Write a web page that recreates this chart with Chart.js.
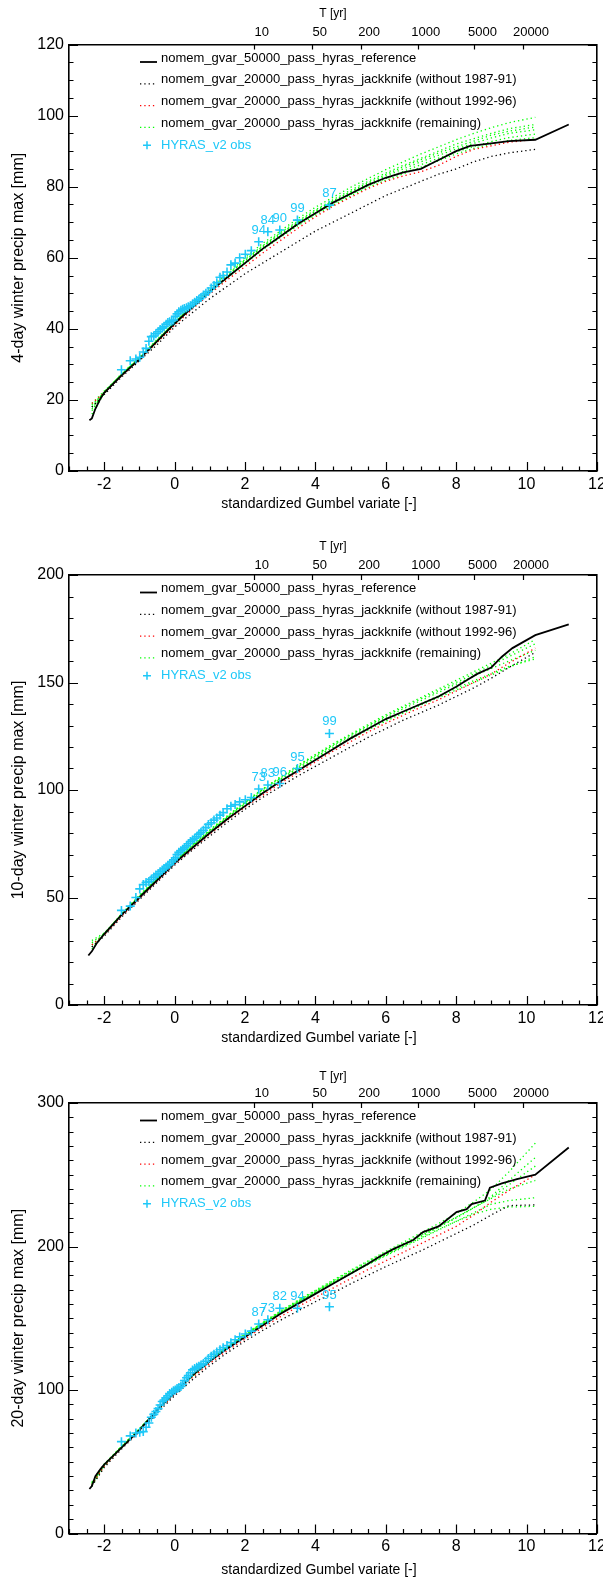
<!DOCTYPE html>
<html>
<head>
<meta charset="utf-8">
<script src="https://cdn.jsdelivr.net/npm/chart.js@4.4.0/dist/chart.umd.min.js"></script>
<style>
  html, body { margin: 0; padding: 0; background: #fff; }
  body { width: 603px; height: 1584px; position: relative; overflow: hidden; }
  canvas { position: absolute; left: 0; }
</style>
</head>
<body>
<canvas id="c1" width="603" height="528" style="top:0px"></canvas>
<canvas id="c2" width="603" height="528" style="top:530px"></canvas>
<canvas id="c3" width="603" height="528" style="top:1056px"></canvas>
<script>
// axis labels
const gumbelMajor = [-2, 0, 2, 4, 6, 8, 10, 12];
const returnPeriods = ['10', '50', '200', '1000', '5000', '20000'];
const returnPeriodX = [2.25, 3.90, 5.30, 6.91, 8.52, 9.90];
const legendLabels = [
    'nomem_gvar_50000_pass_hyras_reference',
    'nomem_gvar_20000_pass_hyras_jackknife (without 1987-91)',
    'nomem_gvar_20000_pass_hyras_jackknife (without 1992-96)',
    'nomem_gvar_20000_pass_hyras_jackknife (remaining)',
    'HYRAS_v2 obs'
];

// plotting positions of the observed annual maxima
const obsX = [-1.51, -1.26, -1.10, -0.99, -0.89, -0.81, -0.73, -0.66, -0.59, -0.53, -0.47, -0.41, -0.35,
    -0.30, -0.24, -0.19, -0.14, -0.08, -0.03, 0.02, 0.07, 0.12, 0.18, 0.23, 0.28, 0.34, 0.39, 0.45, 0.51,
    0.57, 0.63, 0.69, 0.75, 0.82, 0.89, 0.96, 1.04, 1.12, 1.20, 1.29, 1.38, 1.49, 1.60, 1.72, 1.85, 2.01,
    2.18, 2.39, 2.65, 2.99, 3.49, 4.40];

// x positions of the jackknife curves
const jkX = [-2.35, -2, -1.5, -1, -0.5, 0, 0.5, 1, 1.5, 2, 2.5, 3, 3.5, 4, 4.5, 5, 5.5, 6, 6.5, 7, 7.5, 8, 8.5, 9, 9.5, 10.25];

// ---- 4-day
const ref4X = [-2.42, -2.35, -2.25, -2.1, -2.0, -1.5, -1.0, -0.5, 0, 0.5, 1.0, 1.5, 2.0, 2.5, 3.0, 3.5, 4.0,
    4.5, 5.0, 5.5, 6.0, 6.5, 7.0, 7.3, 7.6, 8.0, 8.4, 9.0, 9.5, 10.25, 11.2];
const ref4Y = [14.3, 14.8, 17.5, 20.5, 22, 27, 31.5, 36.5, 41.5, 46, 50.5, 54.5, 58.5, 62.5, 66, 69.5, 72.5,
    75.5, 78, 80.5, 82.5, 84, 85, 86.5, 88, 90, 91.5, 92.2, 92.8, 93.2, 97.5];
const jk8791_4 = [18, 21.5, 26.5, 31, 35.5, 40.5, 44.5, 48.5, 52, 55.5, 58.5, 61.5, 64.5, 67.5, 70, 72.5, 75,
    77.5, 79.5, 81.5, 83.5, 85, 87, 88.5, 89.5, 90.5];
const jk9296_4 = [19, 22, 26.8, 31.3, 36.2, 41, 45.5, 49.8, 53.8, 57.5, 61.3, 64.8, 68.3, 71.5, 74.5, 77, 79.5,
    81.5, 83, 84.2, 86, 88.5, 90.5, 91.5, 92.5, 93.3];
const jkRest4 = [
    [17, 22, 27.5, 32, 37, 42, 46.8, 51.3, 55.8, 60, 64, 67.5, 71, 74.2, 77, 79.8, 82.3, 84.8, 87, 89.2, 91.2, 93.2, 95, 96.6, 98, 99.5],
    [18, 22.3, 27.3, 31.8, 36.8, 41.8, 46.5, 51, 55.3, 59.5, 63.4, 67, 70.3, 73.5, 76.3, 79, 81.5, 83.8, 86, 88, 90, 92, 93.5, 95, 96.3, 97.5],
    [19, 22.5, 27.2, 31.7, 36.6, 41.6, 46.2, 50.7, 55, 59, 63, 66.5, 69.8, 73, 75.8, 78.4, 80.8, 83, 85, 87, 88.8, 90.6, 92.2, 93.7, 95, 96],
    [18.5, 22.2, 27, 31.5, 36.4, 41.4, 46, 50.4, 54.6, 58.6, 62.5, 66, 69.3, 72.4, 75.2, 77.8, 80.2, 82.3, 84.3, 86.2, 88, 89.8, 91.3, 92.7, 93.8, 94.8],
    [17.5, 22, 27, 31.5, 36.3, 41.2, 45.8, 50.2, 54.3, 58.3, 62.2, 65.7, 69, 72, 74.8, 77.4, 79.8, 81.8, 83.6, 85.5, 87.3, 89.2, 90.8, 92, 93, 93.8],
    [16, 21.8, 27.2, 31.8, 36.7, 41.7, 46.3, 50.8, 55.2, 59.3, 63.2, 66.8, 70, 73.2, 76, 78.6, 81.1, 83.4, 85.6, 87.6, 89.5, 91.2, 92.8, 94.5, 95.6, 96.8]
];
const obs4 = [28.5, 31, 31.5, 32, 33.5, 34.5, 36.5, 37.8, 38, 38.6, 39.2, 39.8, 40.2, 40.6, 41.3, 41.8, 42, 42.2,
    42.5, 43.5, 44.2, 44.8, 45.2, 45.5, 45.7, 45.9, 46.2, 46.5, 47, 47.5, 48, 48.3, 48.8, 49.5, 50, 50.5, 51.5,
    52.2, 53, 54.5, 55, 56, 58, 58.5, 60, 61, 62, 64.5, 67.3, 67.8, 70.6, 74.8];
const obsYears4 = ['94', '84', '90', '99', '87'];

// ---- 10-day
const ref10X = [-2.45, -2.35, -2.2, -2, -1.5, -1, -0.5, 0, 0.5, 1, 1.5, 2, 2.5, 3, 3.5, 4, 4.5, 5, 5.5, 6, 6.5,
    7, 7.5, 8, 8.3, 8.6, 9, 9.3, 9.6, 10.25, 11.2];
const ref10Y = [23, 25, 29, 33, 42, 50, 58, 66, 73, 80, 86.5, 92.5, 98.5, 104, 109, 114, 119, 124, 128.5, 133,
    136.5, 140, 143.5, 148, 151, 154, 157, 162, 166, 172, 177];
const jk8791_10 = [27, 32, 41, 49, 57, 65, 72, 78.5, 85, 91, 96.5, 101.5, 106.5, 111, 115.5, 120, 124.5, 128.5,
    132.5, 136, 139.5, 143.5, 147.5, 152, 157, 164];
const jk9296_10 = [28, 32.5, 41.5, 49.5, 57.5, 65.5, 72.5, 79.5, 86, 92, 97.5, 103, 108, 113, 118, 122.5, 127,
    131, 134.8, 138.5, 142, 146, 150, 154, 159, 166];
const jkRest10 = [
    [26, 33, 42.5, 51, 59, 67, 74.5, 81.5, 88, 94.5, 100.5, 106, 111.5, 116.5, 121.5, 126, 130.5, 135, 139, 143, 147, 151, 155, 159, 163, 170],
    [28, 33, 42.3, 50.7, 58.7, 66.7, 74, 81, 87.5, 94, 100, 105.5, 110.8, 115.8, 120.7, 125.2, 129.5, 133.8, 137.8, 141.6, 145.4, 149.2, 153, 156.5, 160, 165],
    [30, 33.5, 42.2, 50.5, 58.5, 66.5, 73.8, 80.7, 87.2, 93.5, 99.4, 105, 110.2, 115.2, 120, 124.4, 128.6, 132.6, 136.5, 140.2, 143.8, 147.4, 150.8, 154.2, 157.5, 161],
    [29, 33.2, 42.4, 50.8, 58.8, 66.8, 74.2, 81.2, 87.8, 94.2, 100.2, 105.8, 111.2, 116.2, 121, 125.6, 130, 134.4, 138.5, 142.4, 146.2, 150, 154, 158, 162, 168],
    [27, 32.8, 42, 50.3, 58.3, 66.3, 73.6, 80.5, 87, 93.2, 99, 104.5, 109.7, 114.6, 119.4, 123.8, 128, 132, 135.8, 139.5, 143, 146.5, 150, 153.5, 157, 162]
];
const obs10 = [44, 46, 50, 54, 56, 57, 57.5, 58.5, 59.5, 60.5, 61, 62, 62.8, 63.5, 64.2, 65, 65.5, 66.5, 67.5,
    68.5, 70, 71, 71.8, 72.5, 73.2, 74, 75, 76, 76.8, 77.5, 78.3, 79.5, 80.3, 81.3, 82.5, 84, 84.8, 86, 87,
    88.3, 89.5, 91.3, 92.5, 93.2, 94.5, 95.5, 96.5, 100.5, 102.3, 103, 110, 126.3];
const obsYears10 = ['73', '83', '96', '95', '99'];

// ---- 20-day
const ref20X = [-2.42, -2.35, -2.25, -2.1, -2, -1.5, -1, -0.5, 0, 0.5, 1, 1.5, 2, 2.5, 3, 3.5, 4, 4.5, 5, 5.5,
    5.83, 6.2, 6.78, 7.06, 7.5, 7.73, 8.01, 8.3, 8.44, 8.82, 8.96, 9.3, 9.73, 10.25, 11.2];
const ref20Y = [31, 33, 40, 45, 48, 60, 72, 86, 98, 110, 120, 129, 137, 145, 153, 160, 167, 174, 181, 188, 193,
    198, 204.5, 210, 214, 218.5, 224, 226, 229.6, 232, 241, 244, 247, 250, 269];
const jk8791_20 = [33, 46, 59, 71, 84, 96, 107, 117, 126, 134, 141.5, 148.5, 155, 161.5, 167.5, 174, 180, 186,
    191.5, 197, 203, 209, 215, 222, 228.5, 229];
const jk9296_20 = [34, 47, 60, 71.5, 85, 97, 108.5, 118.5, 127.5, 135.5, 143.5, 151, 158, 164.5, 171, 177.5, 184,
    190, 196, 202, 208, 214, 222, 231, 239, 250];
const jkRest20 = [
    [35, 48, 61, 73, 86, 98.5, 110.5, 121, 130.5, 139, 147, 155, 162.5, 169.5, 176.5, 183.5, 190, 196.5, 203, 209.5, 216, 223, 231, 240, 252, 272],
    [34, 47.5, 60.5, 72.5, 85.5, 98, 110, 120.5, 130, 138.5, 146.5, 154, 161.5, 168.5, 175.5, 182, 188.5, 195, 201, 207.5, 213.5, 220, 227, 234, 243, 256],
    [36, 48.5, 61, 73, 86, 98.5, 110.3, 120.8, 130.2, 138.8, 146.8, 154.5, 162, 169, 176, 182.8, 189.5, 196, 202, 208, 214, 220.5, 227, 233.5, 240, 246],
    [33, 47, 60.5, 72.5, 85.5, 97.8, 109.5, 120, 129.5, 138, 146, 153.5, 160.8, 167.8, 174.5, 181, 187.5, 193.5, 199.5, 205.5, 211.5, 217.5, 223.5, 229.5, 232, 234],
    [35, 47.8, 60.8, 72.8, 85.8, 98.2, 109.8, 120.3, 129.8, 138.3, 146.3, 154, 161.3, 168.3, 175.2, 181.8, 188.2, 194.2, 200.2, 206, 212, 217.5, 222.5, 226, 227.5, 228],
    [34, 47.2, 60.2, 72.2, 85.2, 97.5, 109.3, 119.8, 129.3, 137.8, 145.8, 153.2, 160.5, 167.5, 174.3, 181, 187.6, 194, 200.5, 207, 213.5, 220, 227, 235, 246, 262]
];
const obs20 = [64, 68, 70, 70.5, 71, 74, 77, 81, 83, 85, 87, 89.5, 92, 93, 94.5, 96, 97.5, 98.5, 99.5, 100, 101,
    101.5, 102.5, 104, 106.5, 108.5, 110, 112, 114, 115, 115.8, 116.5, 117.5, 118.5, 120, 122, 123.5, 125,
    126.5, 128, 129.5, 131, 133, 135, 137, 139, 141, 146, 149, 157, 157, 158];
const obsYears20 = ['87', '73', '82', '94', '95'];

// ---------------------------------------------------------
const CYAN = '#1ec8f8';
const GREEN = '#00ff00';
const FONT = 'Liberation Sans, Arial, sans-serif';

function xy(xs, ys) {
    return ys.map((y, i) => ({ x: xs[i], y: y }));
}

function dotted(color, data) {
    return {
        data: data, showLine: true, borderColor: color, borderWidth: 1.3,
        borderDash: [1.3, 3], pointRadius: 0, fill: false, tension: 0
    };
}

// IDL style ticks pointing into the plot, plus the x title
const inwardTicks = {
    id: 'inwardTicks',
    afterDraw(chart, args, opts) {
        const { ctx, chartArea: a, scales } = chart;
        ctx.save();
        ctx.strokeStyle = '#000';
        ctx.lineWidth = 1.2;
        ctx.beginPath();
        for (let v = -3; v <= 12; v += 0.5) {
            const px = Math.round(scales.x.getPixelForValue(v)) + 0.5;
            const len = (v % 2 === 0) ? 9 : 4.5;
            ctx.moveTo(px, a.bottom); ctx.lineTo(px, a.bottom - len);
        }
        returnPeriodX.forEach(v => {
            const px = Math.round(scales.x.getPixelForValue(v)) + 0.5;
            ctx.moveTo(px, a.top); ctx.lineTo(px, a.top + 5);
        });
        for (let v = 0; v <= opts.yMax; v += opts.yMinor) {
            const py = Math.round(scales.y.getPixelForValue(v)) + 0.5;
            const len = (v % opts.yStep === 0) ? 9 : 4.5;
            ctx.moveTo(a.left, py); ctx.lineTo(a.left + len, py);
            ctx.moveTo(a.right, py); ctx.lineTo(a.right - len, py);
        }
        ctx.stroke();

        ctx.font = '14px ' + FONT;
        ctx.fillStyle = '#000';
        ctx.textAlign = 'center';
        ctx.textBaseline = 'middle';
        ctx.fillText('standardized Gumbel variate [-]', 319, a.bottom + opts.titleGap);
        ctx.restore();
    }
};

// legend drawn inside the plot box, top left
const boxLegend = {
    id: 'boxLegend',
    afterDraw(chart) {
        const { ctx, chartArea: a } = chart;
        const colors = ['#000', '#000', '#ff0000', GREEN, CYAN];
        ctx.save();
        ctx.font = '13px ' + FONT;
        ctx.textBaseline = 'middle';
        legendLabels.forEach((txt, i) => {
            const y = a.top + 13.5 + 21.8 * i;
            ctx.strokeStyle = colors[i];
            ctx.lineWidth = i === 0 ? 1.8 : 1.3;
            ctx.beginPath();
            if (i === 0) {
                ctx.setLineDash([]);
                ctx.moveTo(140, y + 4); ctx.lineTo(157, y + 4);
            } else if (i < 4) {
                ctx.setLineDash([1.3, 3]);
                ctx.moveTo(140, y + 4); ctx.lineTo(157, y + 4);
            } else {
                ctx.setLineDash([]);
                ctx.lineWidth = 1.5;
                ctx.moveTo(147, y - 4); ctx.lineTo(147, y + 4);
                ctx.moveTo(143, y); ctx.lineTo(151, y);
            }
            ctx.stroke();
            ctx.fillStyle = i === 4 ? CYAN : '#000';
            ctx.fillText(txt, 161, y);
        });
        ctx.restore();
    }
};

// year labels above the largest observed maxima
const yearLabels = {
    id: 'yearLabels',
    afterDatasetsDraw(chart, args, opts) {
        const { ctx, scales } = chart;
        const pts = chart.data.datasets[0].data;
        ctx.save();
        ctx.font = '13px ' + FONT;
        ctx.fillStyle = CYAN;
        ctx.textAlign = 'center';
        ctx.textBaseline = 'alphabetic';
        opts.years.forEach((yr, k) => {
            const p = pts[pts.length - opts.years.length + k];
            ctx.fillText(yr, scales.x.getPixelForValue(p.x), scales.y.getPixelForValue(p.y) - 8);
        });
        ctx.restore();
    }
};

function noPad(s) {
    s.paddingLeft = 0; s.paddingRight = 0; s.paddingTop = 0; s.paddingBottom = 0;
}

function makePanel(p) {
    const H = 528;
    const datasets = [{
        data: xy(obsX, p.obs), showLine: false, pointStyle: 'cross', pointRadius: 4.5,
        borderColor: CYAN, borderWidth: 1.6, backgroundColor: CYAN
    }, {
        data: xy(p.refX, p.refY), showLine: true, borderColor: '#000', borderWidth: 1.8,
        pointRadius: 0, fill: false, tension: 0
    }, dotted('#ff0000', xy(jkX, p.jk9296)), dotted('#000', xy(jkX, p.jk8791))];
    p.rest.forEach(r => datasets.push(dotted(GREEN, xy(jkX, r))));

    const tickFont = { family: FONT, size: 16 };
    const frame = { display: true, color: '#000', width: 1.6 };
    return new Chart(document.getElementById(p.id), {
        type: 'scatter',
        data: { datasets: datasets },
        options: {
            responsive: false,
            animation: false,
            events: [],
            layout: { padding: 0 },
            plugins: {
                legend: { display: false },
                tooltip: { enabled: false },
                inwardTicks: { yMax: p.yMax, yStep: p.yStep, yMinor: p.yMinor, titleGap: p.titleGap },
                yearLabels: { years: p.years }
            },
            scales: {
                x: {
                    type: 'linear', position: 'bottom', min: -3, max: 12,
                    afterBuildTicks: s => { s.ticks = gumbelMajor.map(v => ({ value: v })); },
                    afterFit: s => { s.height = H - p.areaBottom; noPad(s); },
                    grid: { display: false, drawTicks: false },
                    border: frame,
                    ticks: { font: tickFont, color: '#000', padding: 3.5, maxRotation: 0, autoSkip: false }
                },
                xTop: {
                    type: 'linear', position: 'top', min: -3, max: 12,
                    afterBuildTicks: s => { s.ticks = returnPeriodX.map(v => ({ value: v })); },
                    afterFit: s => { s.height = p.areaTop; noPad(s); },
                    grid: { display: false, drawTicks: false },
                    border: frame,
                    ticks: {
                        font: { family: FONT, size: 13 }, color: '#000', padding: p.topPad, labelOffset: 8,
                        maxRotation: 0, autoSkip: false,
                        callback: (v, i) => returnPeriods[i]
                    },
                    title: {
                        display: true, text: 'T [yr]', color: '#000',
                        font: { family: FONT, size: 12 }, padding: { top: p.areaTop - p.tGap - 7.2, bottom: 0 }
                    }
                },
                y: {
                    type: 'linear', position: 'left', min: 0, max: p.yMax,
                    afterFit: s => { s.width = 69; noPad(s); },
                    grid: { display: false, drawTicks: false },
                    border: frame,
                    ticks: { font: tickFont, color: '#000', padding: 5, stepSize: p.yStep },
                    title: {
                        display: true, text: p.yTitle, color: '#000',
                        font: { family: FONT, size: 16 }, padding: { top: 9, bottom: 0 }
                    }
                },
                yRight: {
                    type: 'linear', position: 'right', min: 0, max: p.yMax,
                    afterFit: s => { s.width = 6; noPad(s); },
                    grid: { display: false, drawTicks: false },
                    border: frame,
                    ticks: { display: false }
                }
            }
        },
        plugins: [inwardTicks, boxLegend, yearLabels]
    });
}

makePanel({
    id: 'c1', yMax: 120, yStep: 20, yMinor: 5, yTitle: '4-day winter precip max [mm]',
    areaTop: 44.5, areaBottom: 471, titleGap: 33, tGap: 31, topPad: 4,
    refX: ref4X, refY: ref4Y, jk8791: jk8791_4, jk9296: jk9296_4, rest: jkRest4,
    obs: obs4, years: obsYears4
});
makePanel({
    id: 'c2', yMax: 200, yStep: 50, yMinor: 10, yTitle: '10-day winter precip max [mm]',
    areaTop: 45, areaBottom: 475, titleGap: 33, tGap: 28.5, topPad: 2,
    refX: ref10X, refY: ref10Y, jk8791: jk8791_10, jk9296: jk9296_10, rest: jkRest10,
    obs: obs10, years: obsYears10
});
makePanel({
    id: 'c3', yMax: 300, yStep: 100, yMinor: 10, yTitle: '20-day winter precip max [mm]',
    areaTop: 47, areaBottom: 477.5, titleGap: 37, tGap: 26, topPad: 2,
    refX: ref20X, refY: ref20Y, jk8791: jk8791_20, jk9296: jk9296_20, rest: jkRest20,
    obs: obs20, years: obsYears20
});
</script>
</body>
</html>
